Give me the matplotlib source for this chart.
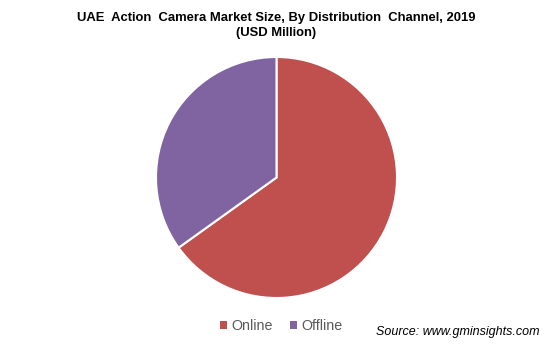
import matplotlib.pyplot as plt
from matplotlib.patches import Patch

plt.rcParams['font.family'] = ['Liberation Sans', 'DejaVu Sans']

# Market share by distribution channel
channels = ['Online', 'Offline']
shares = [65.1, 34.9]
colors = ['#C0504D', '#8064A2']

W, H = 554, 347
fig = plt.figure(figsize=(W / 100, H / 100), dpi=100)

# pie area: centre ~(276.5, 177.5) px, radius ~120.5 px
ax = fig.add_axes([156 / W, 49 / H, 241 / W, 241 / H])
ax.pie(shares, colors=colors, startangle=90, counterclock=False,
       wedgeprops=dict(edgecolor='white', linewidth=1.5))
ax.set_xlim(-1, 1)
ax.set_ylim(-1, 1)
ax.set_aspect('equal')
ax.axis('off')

fig.text(276.5 / W, 1 - 18 / H,
         'UAE  Action  Camera Market Size, By Distribution  Channel, 2019',
         ha='center', va='center', fontsize=9.4, fontweight='bold')
fig.text(276.5 / W, 1 - 33 / H, '(USD Million)',
         ha='center', va='center', fontsize=9.4, fontweight='bold')

handles = [Patch(facecolor=c, edgecolor='none') for c in colors]
leg = fig.legend(handles, channels, loc='center', bbox_to_anchor=(281 / W, 1 - 326 / H),
                 ncol=2, frameon=False, fontsize=10.3, handlelength=0.5, handleheight=0.5,
                 handletextpad=0.3, columnspacing=1.2)
for t in leg.get_texts():
    t.set_color('#595959')

fig.text(539 / W, 1 - 332 / H, 'Source: www.gminsights.com',
         ha='right', va='center', fontsize=9, style='italic', color='#000000')

plt.savefig('out.png', dpi=100)
